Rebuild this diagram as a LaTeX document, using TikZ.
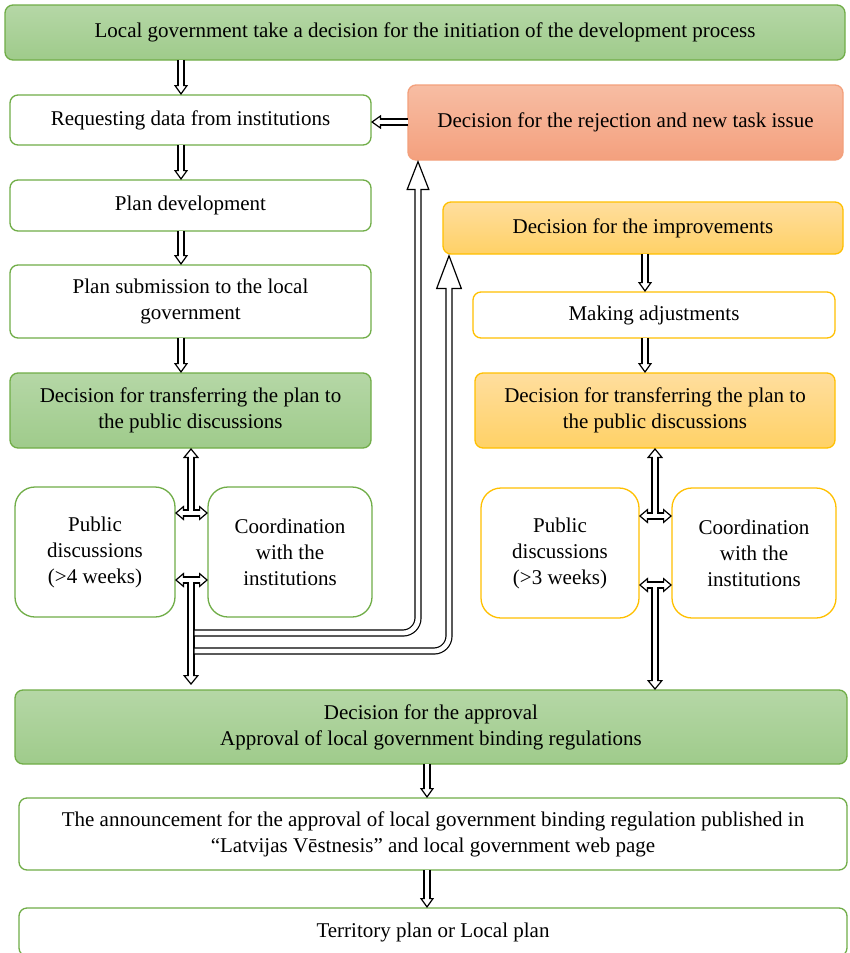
\documentclass[tikz,border=0pt]{standalone}
\usepackage{fontspec}
\setmainfont{Liberation Serif}
\usetikzlibrary{arrows.meta,calc}

\definecolor{gEdge}{HTML}{70AD47}
\definecolor{gTop}{HTML}{B5D7A6}
\definecolor{gBot}{HTML}{9FCB8B}
\definecolor{oEdge}{HTML}{F3A07C}
\definecolor{oTop}{HTML}{F7BDA3}
\definecolor{oBot}{HTML}{F4A07E}
\definecolor{yEdge}{HTML}{FFC000}
\definecolor{yTop}{HTML}{FFDE9E}
\definecolor{yBot}{HTML}{FFD166}

\tikzset{
  box/.style={line width=1.3pt, rounded corners=8pt, outer sep=0pt, inner sep=0pt,
    align=center, anchor=north west, text=black, font=\fontsize{21}{26}\selectfont},
  greenbox/.style={box, draw=gEdge, top color=gTop, bottom color=gBot},
  greenline/.style={box, draw=gEdge, fill=white},
  orangebox/.style={box, draw=oEdge, top color=oTop, bottom color=oBot},
  yellowbox/.style={box, draw=yEdge, top color=yTop, bottom color=yBot},
  yellowline/.style={box, draw=yEdge, fill=white},
  % hollow block arrows: black shaft, white heads, white shaft core
  shaftout/.style={line width=7.2pt, draw=black},
  shaftin/.style={line width=4.8pt, draw=white},
  hd/.style={line width=1.2pt, draw=black, -{Triangle[width=14pt,length=10pt,fill=white]}},
  hdd/.style={line width=1.2pt, draw=black, -{Triangle[width=16pt,length=10pt,fill=white]}},
  hdh/.style={line width=1.2pt, draw=black, -{Triangle[width=15pt,length=9pt,fill=white]}},
  hdbig/.style={line width=1.2pt, draw=black, -{Triangle[width=23pt,length=30pt,fill=white]}},
  hdbigger/.style={line width=1.2pt, draw=black, -{Triangle[width=26pt,length=35pt,fill=white]}},
}

% name, style, x1, y1, x2, y2, text
\newcommand\flowbox[7]{\node[#2, minimum width={#5-#3}, minimum height={#6-#4}] (#1) at (#3,#4) {#7};}

% every shaft, drawn once black and once white so joined shafts merge
\newcommand\shaftpaths[1]{%
  \draw[#1] (top.south -| xA) -- ($(req.north -| xA)+(0,-8)$);
  \draw[#1] (rej.west |- yF) -- ($(req.east |- yF)+(8,0)$);
  \draw[#1] (req.south -| xA) -- ($(dev.north -| xA)+(0,-8)$);
  \draw[#1] (dev.south -| xA) -- ($(sub.north -| xA)+(0,-8)$);
  \draw[#1] (sub.south -| xA) -- ($(trL.north -| xA)+(0,-8)$);
  \draw[#1] (imp.south -| xB) -- ($(adj.north -| xB)+(0,-8)$);
  \draw[#1] (adj.south -| xB) -- ($(trR.north -| xB)+(0,-8)$);
  \draw[#1] (appr.south -| xC) -- ($(ann.north -| xC)+(0,-8)$);
  \draw[#1] (ann.south -| xC) -- ($(terr.north -| xC)+(0,-8)$);
  % left discussion block
  \draw[#1] ($(trL.south -| xD)+(0,8)$) -- (xD |- yL1);
  \draw[#1] ($(pubL.east |- yL1)+(7,0)$) -- ($(coL.west |- yL1)+(-7,0)$);
  \draw[#1] ($(pubL.east |- yL2)+(7,0)$) -- ($(coL.west |- yL2)+(-7,0)$);
  \draw[#1] (xD |- yL2) -- ($(appr.north -| xD)+(0,-13)$);
  % right discussion block
  \draw[#1] ($(trR.south -| xE)+(0,8)$) -- (xE |- yR1);
  \draw[#1] ($(pubR.east |- yR1)+(7,0)$) -- ($(coR.west |- yR1)+(-7,0)$);
  \draw[#1] ($(pubR.east |- yR2)+(7,0)$) -- ($(coR.west |- yR2)+(-7,0)$);
  \draw[#1] (xE |- yR2) -- ($(appr.north -| xE)+(0,-8)$);
  % return pipes
  \draw[#1, rounded corners=15pt] ($(xD |- p1)+(3.6,0)$) -| ($(rej.south -| p1)+(0,28)$);
  \draw[#1, rounded corners=15pt] ($(xD |- p2)+(3.6,0)$) -| ($(imp.south -| p2)+(0,33)$);
}

\begin{document}
\begin{tikzpicture}[x=1pt,y=-1pt]
\fill[white] (0,0) rectangle (849,953);
\useasboundingbox (0,0) rectangle (849,953);

% ---- boxes ----
\flowbox{top}{greenbox}{5}{5}{845}{60}{Local government take a decision for the initiation of the development process}
\flowbox{req}{greenline}{10}{95}{371}{145}{Requesting data from institutions}
\flowbox{rej}{orangebox}{408}{85}{843}{160}{Decision for the rejection and new task issue}
\flowbox{dev}{greenline}{10}{180}{371}{231}{Plan development}
\flowbox{sub}{greenline}{10}{265}{371}{338}{Plan submission to the local\\government}
\flowbox{trL}{greenbox}{10}{373}{371}{448}{Decision for transferring the plan to\\the public discussions}
\flowbox{pubL}{greenline, rounded corners=20pt}{15}{487}{175}{617}{Public\\discussions\\(>4 weeks)}
\flowbox{coL}{greenline, rounded corners=20pt}{208}{487}{372}{617}{Coordination\\with the\\institutions}
\flowbox{imp}{yellowbox}{443}{202}{843}{254}{Decision for the improvements}
\flowbox{adj}{yellowline}{473}{292}{835}{338}{Making adjustments}
\flowbox{trR}{yellowbox}{475}{373}{835}{448}{Decision for transferring the plan to\\the public discussions}
\flowbox{pubR}{yellowline, rounded corners=20pt}{481}{488}{639}{618}{Public\\discussions\\(>3 weeks)}
\flowbox{coR}{yellowline, rounded corners=20pt}{672}{488}{836}{618}{Coordination\\with the\\institutions}
\flowbox{appr}{greenbox}{15}{690}{847}{764}{Decision for the approval\\Approval of local government binding regulations}
\flowbox{ann}{greenline}{19}{798}{847}{870}{The announcement for the approval of local government binding regulation published in\\“Latvijas Vēstnesis” and local government web page}
\flowbox{terr}{greenline}{19}{908}{847}{956}{Territory plan or Local plan}

% ---- arrow guide positions ----
\coordinate (xA) at (181,0);
\coordinate (xB) at (645,0);
\coordinate (xC) at (427,0);
\coordinate (xD) at (191,0);
\coordinate (xE) at (655,0);
\coordinate (yF) at (0,122);
\coordinate (yL1) at (0,513);
\coordinate (yL2) at (0,580);
\coordinate (yR1) at (0,516);
\coordinate (yR2) at (0,585);
\coordinate (p1) at (418,633);
\coordinate (p2) at (449,651);

% ---- shafts (outline) ----
\shaftpaths{shaftout}

% ---- heads ----
\draw[hd] ($(req.north -| xA)+(0,-10)$) -- (req.north -| xA);
\draw[hd] ($(req.east |- yF)+(10,0)$) -- (req.east |- yF);
\draw[hd] ($(dev.north -| xA)+(0,-10)$) -- (dev.north -| xA);
\draw[hd] ($(sub.north -| xA)+(0,-10)$) -- (sub.north -| xA);
\draw[hd] ($(trL.north -| xA)+(0,-10)$) -- (trL.north -| xA);
\draw[hd] ($(adj.north -| xB)+(0,-10)$) -- (adj.north -| xB);
\draw[hd] ($(trR.north -| xB)+(0,-10)$) -- (trR.north -| xB);
\draw[hd] ($(ann.north -| xC)+(0,-10)$) -- (ann.north -| xC);
\draw[hd] ($(terr.north -| xC)+(0,-10)$) -- (terr.north -| xC);

\draw[hdd] ($(trL.south -| xD)+(0,10)$) -- (trL.south -| xD);
\draw[hdh] ($(pubL.east |- yL1)+(9,0)$) -- (pubL.east |- yL1);
\draw[hdh] ($(coL.west |- yL1)+(-9,0)$) -- (coL.west |- yL1);
\draw[hdh] ($(pubL.east |- yL2)+(9,0)$) -- (pubL.east |- yL2);
\draw[hdh] ($(coL.west |- yL2)+(-9,0)$) -- (coL.west |- yL2);
\draw[hdd] ($(appr.north -| xD)+(0,-15)$) -- ($(appr.north -| xD)+(0,-5)$);

\draw[hdd] ($(trR.south -| xE)+(0,10)$) -- (trR.south -| xE);
\draw[hdh] ($(pubR.east |- yR1)+(9,0)$) -- (pubR.east |- yR1);
\draw[hdh] ($(coR.west |- yR1)+(-9,0)$) -- (coR.west |- yR1);
\draw[hdh] ($(pubR.east |- yR2)+(9,0)$) -- (pubR.east |- yR2);
\draw[hdh] ($(coR.west |- yR2)+(-9,0)$) -- (coR.west |- yR2);
\draw[hdd] ($(appr.north -| xE)+(0,-10)$) -- (appr.north -| xE);

\draw[hdbig] ($(rej.south -| p1)+(0,30)$) -- (rej.south -| p1);
\draw[hdbigger] ($(imp.south -| p2)+(0,35)$) -- (imp.south -| p2);

% ---- shafts (white core) ----
\shaftpaths{shaftin}
\end{tikzpicture}
\end{document}
